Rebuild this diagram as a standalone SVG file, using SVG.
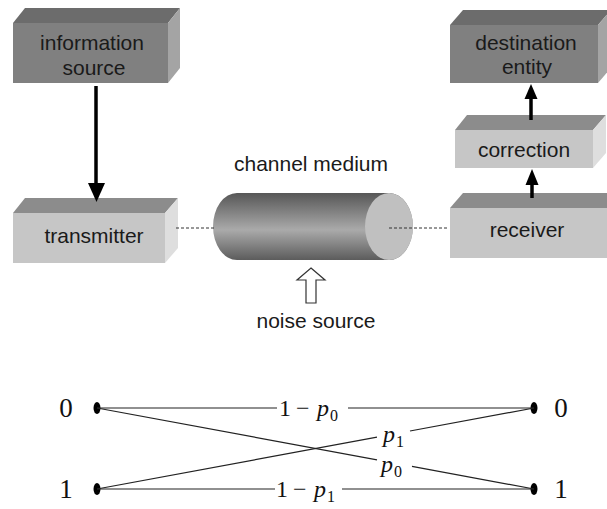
<svg xmlns="http://www.w3.org/2000/svg" width="607" height="509" viewBox="0 0 607 509">
  <style>
    .lbl { font-family: "Liberation Sans", Arial, sans-serif; font-size: 21px; fill: #1a1a1a; text-anchor: middle; }
    .dk-front { fill: #808080; }
    .dk-top { fill: #6c6c6c; }
    .dk-side { fill: #a4a4a4; }
    .lt-front { fill: #c6c6c6; }
    .lt-top { fill: #8c8c8c; }
    .lt-side { fill: #dedede; }
    .math { font-family: "Liberation Serif", "Times New Roman", serif; font-size: 24px; fill: #111; }
    .digit { font-family: "Liberation Serif", "Times New Roman", serif; font-size: 27px; fill: #111; text-anchor: middle; }
    .it { font-style: italic; }
    .sub { font-size: 16px; }
    .wire { stroke: #222; stroke-width: 1.2; fill: none; }
    .dash { stroke: #333; stroke-width: 1; stroke-dasharray: 3 2; fill: none; }
    .flow { stroke: #000; stroke-width: 3.5; fill: none; }
  </style>
  <defs>
    <linearGradient id="tube" x1="0" y1="0" x2="0" y2="1">
      <stop offset="0" stop-color="#575757"/>
      <stop offset="0.55" stop-color="#aaaaaa"/>
      <stop offset="1" stop-color="#5c5c5c"/>
    </linearGradient>
  </defs>

  <rect width="607" height="509" fill="#ffffff"/>

  <!-- top block diagram -->
  <g id="information-source">
    <polygon class="dk-top" points="13,23 25,8 180,8 168,23"/>
    <polygon class="dk-side" points="168,23 180,8 180,68 168,83"/>
    <rect class="dk-front" x="13" y="23" width="155" height="60"/>
    <text class="lbl" x="92" y="50">information</text>
    <text class="lbl" x="94" y="75">source</text>
  </g>

  <g id="transmitter">
    <polygon class="lt-top" points="13,213 25,198 178,198 165,213"/>
    <polygon class="lt-side" points="165,213 178,198 178,248 165,263"/>
    <rect class="lt-front" x="13" y="213" width="152" height="50"/>
    <text class="lbl" x="94" y="243">transmitter</text>
  </g>

  <g id="channel-medium">
    <path d="M237,193 L389,193 A24,33.5 0 0 1 389,260 L237,260 A24,33.5 0 0 1 237,193 Z" fill="url(#tube)"/>
    <ellipse cx="389" cy="226.5" rx="24" ry="33.5" fill="#c0c0c0"/>
    <text class="lbl" x="311" y="171">channel medium</text>
  </g>

  <g id="noise-source">
    <text class="lbl" x="316" y="328">noise source</text>
  </g>

  <g id="destination-entity">
    <polygon class="dk-top" points="450,25 463,10 611,10 598,25"/>
    <polygon class="dk-side" points="598,25 611,10 611,68 598,83"/>
    <rect class="dk-front" x="450" y="25" width="148" height="58"/>
    <text class="lbl" x="526" y="50">destination</text>
    <text class="lbl" x="527" y="74">entity</text>
  </g>

  <g id="correction">
    <polygon class="lt-top" points="455,130 467,115 606,115 593,130"/>
    <polygon class="lt-side" points="593,130 606,115 606,153 593,168"/>
    <rect class="lt-front" x="455" y="130" width="138" height="38"/>
    <text class="lbl" x="524" y="157">correction</text>
  </g>

  <g id="receiver">
    <polygon class="lt-top" points="450,208 463,193 620,193 607,208"/>
    <rect class="lt-front" x="450" y="208" width="157" height="50"/>
    <text class="lbl" x="527" y="237">receiver</text>
  </g>

  <!-- binary channel nodes -->
  <g id="input-0">
    <text class="digit" x="66" y="417">0</text>
    <ellipse cx="97" cy="408" rx="3.5" ry="6" fill="#000"/>
  </g>
  <g id="input-1">
    <text class="digit" x="66" y="498">1</text>
    <ellipse cx="97" cy="489" rx="3.5" ry="6" fill="#000"/>
  </g>
  <g id="output-0">
    <ellipse cx="534" cy="408" rx="3.5" ry="6" fill="#000"/>
    <text class="digit" x="561" y="417">0</text>
  </g>
  <g id="output-1">
    <ellipse cx="534" cy="489" rx="3.5" ry="6" fill="#000"/>
    <text class="digit" x="561" y="498">1</text>
  </g>

  <g id="connectors">
    <!-- source to transmitter -->
    <line class="flow" x1="96" y1="86" x2="96" y2="186"/>
    <polygon points="88,183 105,183 96.5,202" fill="#000"/>
    <!-- receiver to correction -->
    <line class="flow" x1="532" y1="198" x2="532" y2="182" stroke-width="3"/>
    <polygon points="525.5,185 538.5,185 532,169" fill="#000"/>
    <!-- correction to destination -->
    <line class="flow" x1="531" y1="120" x2="531" y2="96" stroke-width="3"/>
    <polygon points="524.5,99 537.5,99 531,84" fill="#000"/>
    <!-- links through the channel -->
    <line class="dash" x1="176" y1="228" x2="214" y2="228"/>
    <line class="dash" x1="389" y1="228" x2="449" y2="228"/>
    <!-- noise entering the channel -->
    <polygon points="311,268 325,280 316,280 316,303 306,303 306,280 297,280" fill="#fff" stroke="#333" stroke-width="1.2" stroke-linejoin="miter"/>

    <!-- binary channel transitions -->
    <line class="wire" x1="97" y1="408" x2="277" y2="408"/>
    <line class="wire" x1="348" y1="408" x2="534" y2="408"/>
    <line class="wire" x1="97" y1="489" x2="275" y2="489"/>
    <line class="wire" x1="342" y1="489" x2="534" y2="489"/>
    <line class="wire" x1="97" y1="408" x2="377" y2="459.9"/>
    <line class="wire" x1="412" y1="466.4" x2="534" y2="489"/>
    <line class="wire" x1="97" y1="489" x2="377" y2="437.1"/>
    <line class="wire" x1="410" y1="431" x2="534" y2="408"/>

    <text class="math" y="416"><tspan x="279">1</tspan><tspan x="296">−</tspan><tspan x="317" class="it">p</tspan><tspan x="330" dy="5" class="sub">0</tspan></text>
    <text class="math" y="497"><tspan x="276">1</tspan><tspan x="293">−</tspan><tspan x="314" class="it">p</tspan><tspan x="327" dy="5" class="sub">1</tspan></text>
    <text class="math" y="442"><tspan x="383" class="it">p</tspan><tspan x="396" dy="5" class="sub">1</tspan></text>
    <text class="math" y="472"><tspan x="381" class="it">p</tspan><tspan x="394" dy="5" class="sub">0</tspan></text>
  </g>
</svg>
